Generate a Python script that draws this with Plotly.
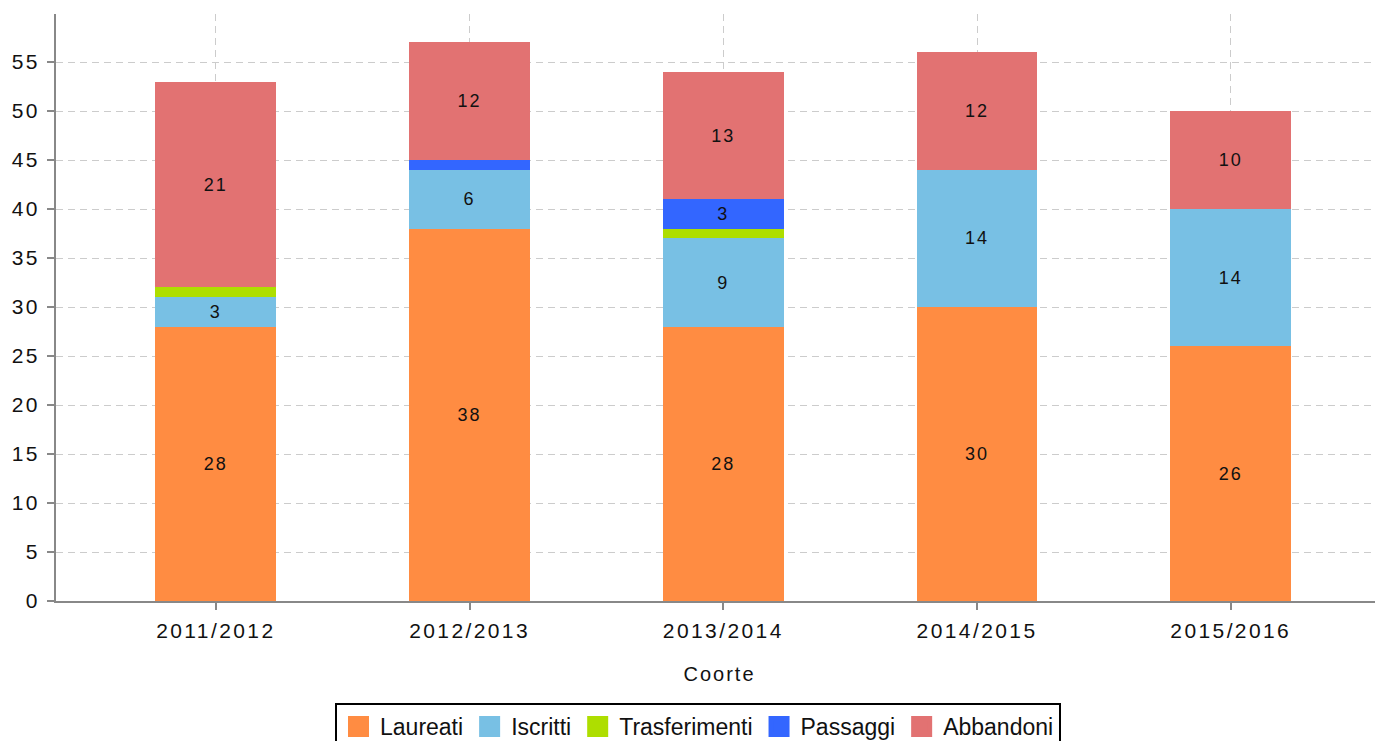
import plotly.graph_objects as go

coorti = ["2011/2012", "2012/2013", "2013/2014", "2014/2015", "2015/2016"]
laureati = [28, 38, 28, 30, 26]
iscritti = [3, 6, 9, 14, 14]
trasferimenti = [1, 0, 1, 0, 0]
passaggi = [0, 1, 3, 0, 0]
abbandoni = [21, 12, 13, 12, 10]

series = [
    ("Laureati", laureati, "#FF8C42"),
    ("Iscritti", iscritti, "#78C0E4"),
    ("Trasferimenti", trasferimenti, "#AEDE00"),
    ("Passaggi", passaggi, "#3366FF"),
    ("Abbandoni", abbandoni, "#E27272"),
]

FONT = "Liberation Sans, Arial, sans-serif"

fig = go.Figure()
for name, vals, col in series:
    fig.add_trace(go.Bar(
        name=name, x=coorti, y=vals, marker=dict(color=col, line=dict(width=0)),
        text=[str(v) if v > 1 else "" for v in vals],
        textposition="inside", insidetextanchor="middle",
        textfont=dict(family=FONT, size=18, color="#111"),
        textangle=0, constraintext="none", showlegend=False,
        hoverinfo="skip",
    ))
# legend entries with larger square swatches
for name, vals, col in series:
    fig.add_trace(go.Scatter(
        name=name, x=[None], y=[None], mode="markers",
        marker=dict(symbol="square", size=16, color=col, line=dict(color=col, width=5)),
        showlegend=True,
    ))

fig.update_layout(
    barmode="stack", bargap=0.524,
    width=1383, height=800,
    margin=dict(l=48, r=8, t=6, b=207, autoexpand=False),
    plot_bgcolor="white", paper_bgcolor="white",
    font=dict(family=FONT, size=20, color="#111"),
    uniformtext=dict(mode=False),
    showlegend=True,
    legend=dict(orientation="h", x=0.4838, xanchor="center", y=-0.1738, yanchor="top",
                bordercolor="black", borderwidth=2, itemwidth=33,
                font=dict(family=FONT, size=23, color="#111"),
                traceorder="normal", itemsizing="trace"),
)
fig.update_xaxes(
    range=[-0.63, 4.6], showline=True, linecolor="#888", linewidth=2,
    ticks="outside", ticklen=7, tickcolor="#888", tickwidth=2,
    showgrid=True, gridcolor="#CCCCCC", griddash="7px,5px", gridwidth=1,
    title=dict(text="Coorte", standoff=26, font=dict(size=20)),
    tickfont=dict(size=21), ticklabelstandoff=3,
)
fig.update_yaxes(
    range=[0, 59.9], dtick=5, showline=True, linecolor="#888", linewidth=2,
    ticks="outside", ticklen=7, tickcolor="#888", tickwidth=2,
    showgrid=True, gridcolor="#CCCCCC", griddash="7px,5px", gridwidth=1,
    zeroline=False, tickfont=dict(size=21), ticklabelstandoff=3,
)

post = ("var s=document.createElement('style');"
        "s.textContent='.xtick text,.ytick text{letter-spacing:2.4px}"
        "text.bartext,text.xtitle{letter-spacing:2px}';"
        "document.head.appendChild(s);")
fig.write_html("out.html", post_script=post)
